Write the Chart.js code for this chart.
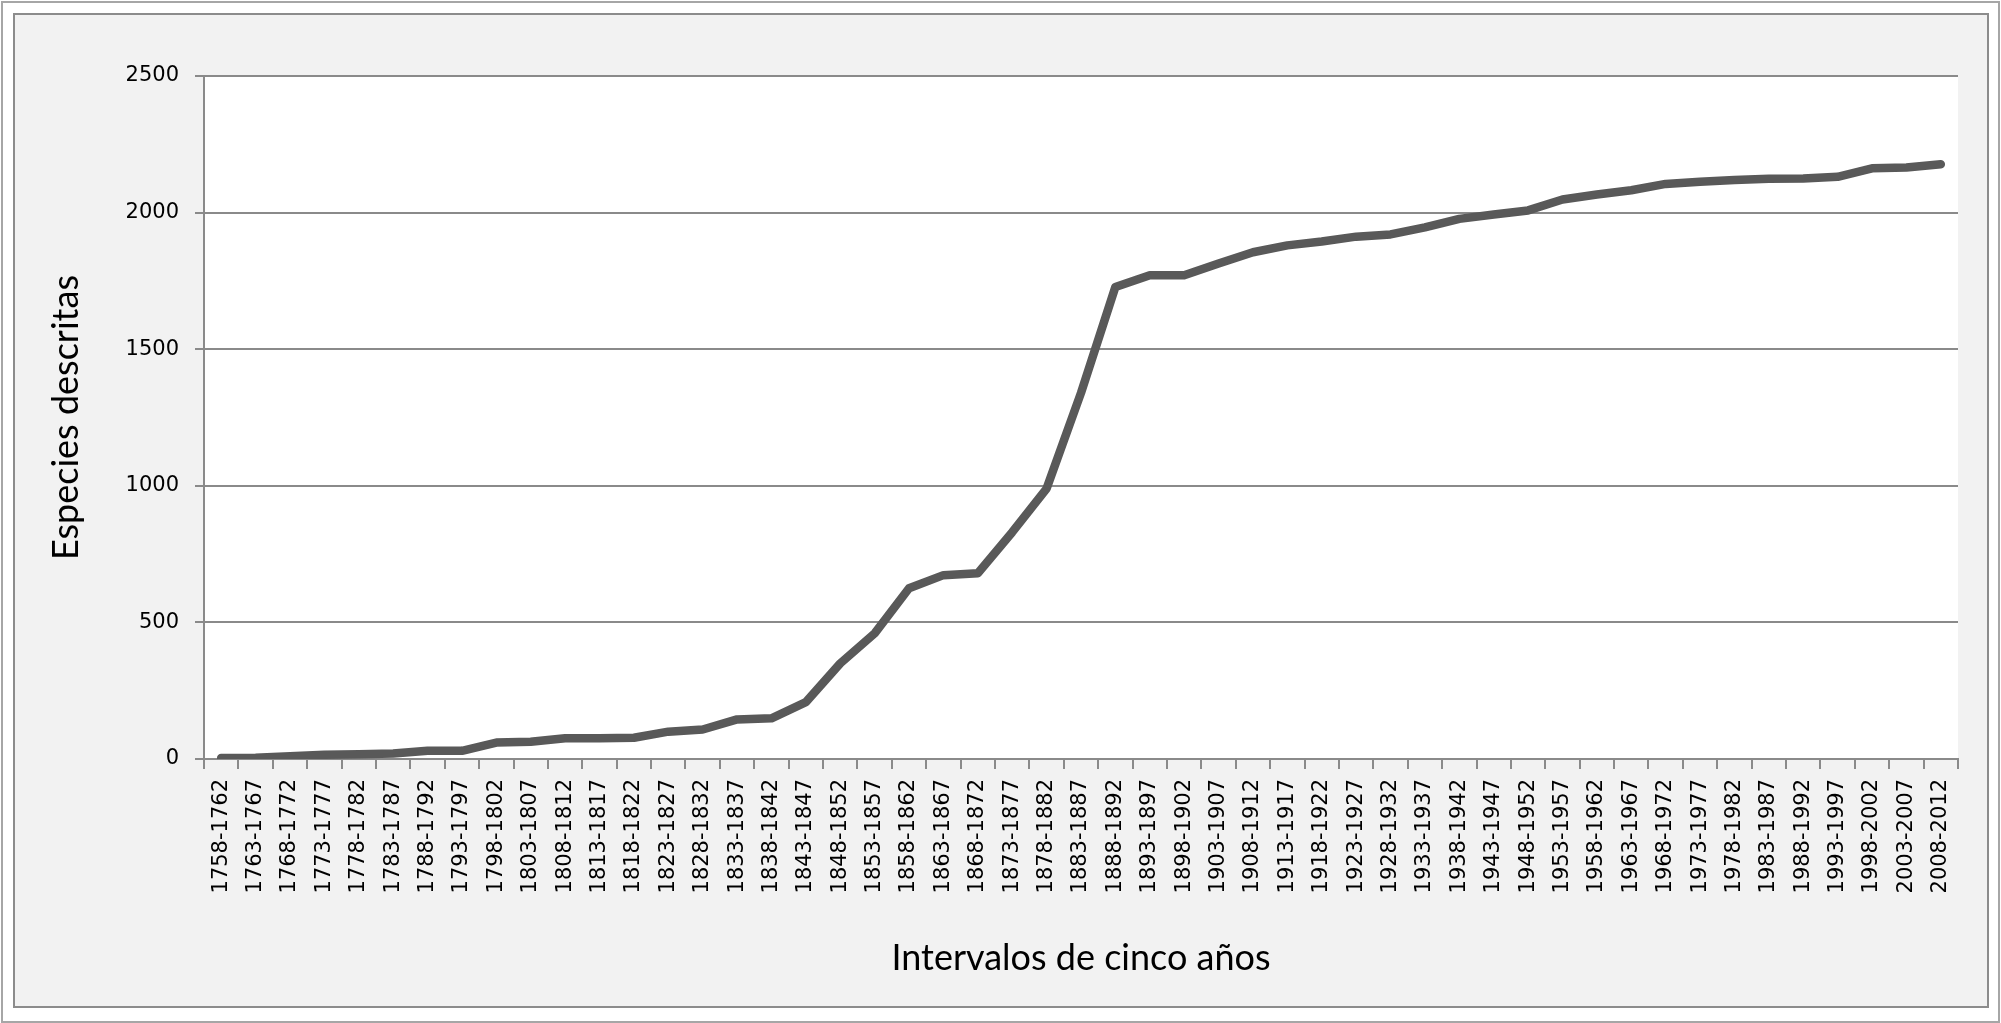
<!DOCTYPE html>
<html lang="es">

<head>
    <meta charset="UTF-8">
    <title>Especies descritas</title>
    <style>
        html, body { margin: 0; padding: 0; background: #fff; overflow: hidden; }
        #wrap { width: 2001px; height: 1023px; }
    </style>
</head>

<body>
    <div id="wrap">
        <canvas id="speciesChart" width="2001" height="1023"></canvas>
    </div>
</body>
<script src="https://cdn.jsdelivr.net/npm/chart.js"></script>
<script>
    const intervals = [
        "1758-1762", "1763-1767", "1768-1772", "1773-1777", "1778-1782", "1783-1787", "1788-1792",
        "1793-1797", "1798-1802", "1803-1807", "1808-1812", "1813-1817", "1818-1822", "1823-1827",
        "1828-1832", "1833-1837", "1838-1842", "1843-1847", "1848-1852", "1853-1857", "1858-1862",
        "1863-1867", "1868-1872", "1873-1877", "1878-1882", "1883-1887", "1888-1892", "1893-1897",
        "1898-1902", "1903-1907", "1908-1912", "1913-1917", "1918-1922", "1923-1927", "1928-1932",
        "1933-1937", "1938-1942", "1943-1947", "1948-1952", "1953-1957", "1958-1962", "1963-1967",
        "1968-1972", "1973-1977", "1978-1982", "1983-1987", "1988-1992", "1993-1997", "1998-2002",
        "2003-2007", "2008-2012"
    ];

    // cumulative number of described species per interval
    const described = [
        4, 5, 10, 16, 17, 20, 30, 30, 60, 63, 76, 76, 78, 100, 108, 145, 149, 208, 350, 460,
        625, 673, 680, 830, 990, 1340, 1728, 1771, 1771, 1814, 1855, 1880, 1894, 1912, 1920,
        1946, 1977, 1993, 2008, 2048, 2066, 2082, 2105, 2113, 2119, 2124, 2125, 2131, 2162,
        2165, 2177
    ];

    const yTicks = [0, 500, 1000, 1500, 2000, 2500];

    const yTitle = "Especies descritas";
    const xTitle = "Intervalos de cinco años";

    const gridColor = "#8a8a8a";

    // grey frame like the spreadsheet chart + white plot area
    const framePlugin = {
        id: "frame",
        beforeDraw(chart) {
            const ctx = chart.ctx;
            const { left, top, right, bottom } = chart.chartArea;
            ctx.save();
            ctx.fillStyle = "#ffffff";
            ctx.fillRect(0, 0, chart.width, chart.height);
            ctx.lineWidth = 2;
            ctx.strokeStyle = "#a6a6a6";
            ctx.strokeRect(2, 2, chart.width - 4, chart.height - 3);
            ctx.fillStyle = "#f2f2f2";
            ctx.fillRect(14, 14, 1974, 993);
            ctx.strokeStyle = "#8c8c8c";
            ctx.strokeRect(14, 14, 1974, 993);
            ctx.fillStyle = "#ffffff";
            ctx.fillRect(left, top, right - left, bottom - top);
            ctx.restore();
        }
    };

    const ctx = document.getElementById("speciesChart").getContext("2d");
    const speciesChart = new Chart(ctx, {
        type: "line",
        data: {
            labels: intervals,
            datasets: [{
                data: described,
                borderColor: "#595959",
                borderWidth: 8.5,
                borderCapStyle: "round",
                borderJoinStyle: "round",
                pointRadius: 0,
                tension: 0,
                fill: false
            }]
        },
        options: {
            responsive: false,
            animation: false,
            layout: {
                padding: { left: 0, right: 43, top: 76, bottom: 0 }
            },
            plugins: {
                legend: { display: false },
                tooltip: { enabled: false }
            },
            scales: {
                x: {
                    offset: true,
                    afterFit: (scale) => { scale.height = 264; },
                    grid: {
                        offset: true,
                        drawOnChartArea: false,
                        drawTicks: true,
                        tickLength: 10,
                        color: gridColor,
                        lineWidth: 2
                    },
                    border: { display: true, color: gridColor, width: 2 },
                    ticks: {
                        autoSkip: false,
                        minRotation: 90,
                        maxRotation: 90,
                        padding: 10,
                        color: "#000",
                        font: { family: "DejaVu Sans", size: 21 }
                    },
                    title: {
                        display: true,
                        text: xTitle,
                        color: "#000",
                        font: { family: "Lato", size: 36 },
                        padding: { top: 0, bottom: 43 }
                    }
                },
                y: {
                    min: 0,
                    max: 2500,
                    afterFit: (scale) => { scale.width = 204; },
                    afterBuildTicks: (scale) => { scale.ticks = yTicks.map(v => ({ value: v })); },
                    grid: {
                        color: gridColor,
                        lineWidth: 2,
                        tickLength: 9
                    },
                    border: { display: true, color: gridColor, width: 2 },
                    ticks: {
                        padding: 16,
                        color: "#000",
                        font: { family: "DejaVu Sans", size: 21 },
                        callback: (v) => String(v)
                    },
                    title: {
                        display: true,
                        text: yTitle,
                        color: "#000",
                        font: { family: "Lato", size: 36 },
                        padding: { top: 45, bottom: 0 }
                    }
                }
            }
        },
        plugins: [framePlugin]
    });
</script>

</html>
